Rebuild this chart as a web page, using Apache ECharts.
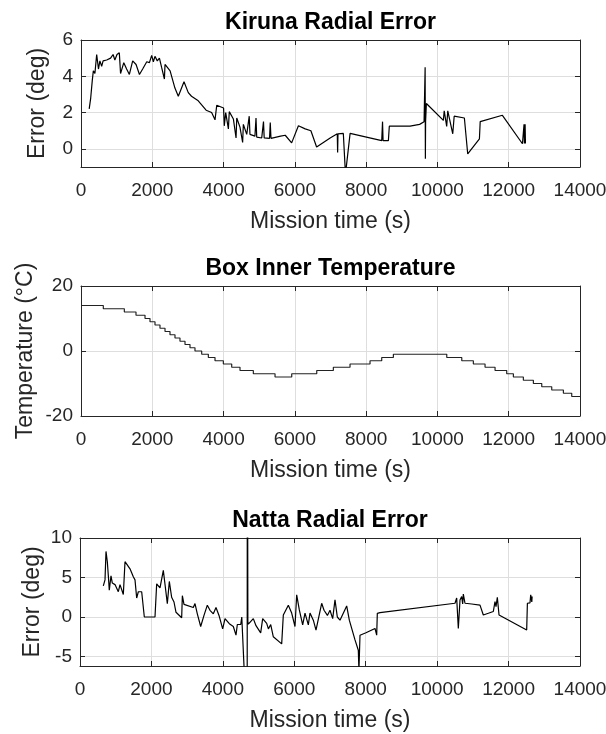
<!DOCTYPE html>
<html>
<head>
<meta charset="utf-8">
<script src="https://cdn.jsdelivr.net/npm/echarts@6/dist/echarts.min.js"></script>
<style>
  html, body { margin: 0; padding: 0; background: #fff; }
  #main { width: 606px; height: 734px; }
</style>
</head>
<body>
<div id="main"></div>
<script>
// Kiruna radial error (deg) vs mission time (s)
var kirunaTime = [230, 272, 318, 346, 390, 440, 490, 530, 580, 620, 720, 760, 830, 900, 950, 1010, 1075, 1110, 1200, 1280,
  1357, 1450, 1545, 1640, 1730, 1845, 1920, 1983, 2030, 2075, 2140, 2200, 2260, 2340, 2357, 2500, 2635, 2730, 2890, 3010,
  3100, 3290, 3510, 3665, 3760, 3808, 4000, 4020, 4060, 4135, 4160, 4275, 4300, 4350, 4370, 4460, 4535, 4555, 4650, 4720,
  4740, 4880, 4910, 4930, 5070, 5120, 5140, 5290, 5310, 5330, 5600, 5730, 5910, 6100, 6290, 6450, 6610, 6990, 7190, 7200,
  7210, 7360, 7420, 7440, 7550, 7600, 8437, 8460, 8475, 8624, 8650, 9232, 9500, 9625, 9655, 9662, 9668, 9690, 10167, 10190,
  10260, 10290, 10320, 10430, 10470, 10756, 10850, 11178, 11200, 11823, 12385, 12430, 12440, 12460, 12470];
var kirunaError = [2.2, 2.8, 3.8, 4.3, 4.15, 5.2, 4.4, 4.85, 4.55, 4.85, 4.9, 5.0, 5.0, 5.2, 4.9, 5.2, 5.3, 4.15, 4.75, 4.4,
  4.1, 4.85, 4.65, 4.1, 4.4, 4.8, 4.75, 5.15, 4.8, 5.1, 4.85, 5.0, 4.5, 3.85, 4.65, 4.3, 3.35, 2.9, 3.7, 3.1,
  2.9, 2.65, 2.13, 2.0, 1.6, 2.4, 2.25, 1.27, 2.0, 1.1, 2.05, 1.65, 1.3, 0.6, 1.7, 1.2, 0.35, 1.35, 0.8, 1.8,
  0.8, 0.7, 1.7, 0.65, 0.6, 1.5, 0.6, 0.58, 1.45, 0.58, 0.7, 0.75, 0.33, 1.27, 1.1, 1.0, 0.1, 0.6, 0.83, -0.2,
  0.83, 0.85, -1.4, -1.4, 0.85, 0.95, 0.45, 1.5, 0.45, 0.45, 1.25, 1.25, 1.35, 1.5, 4.5, -0.55, 1.5, 2.5, 1.57, 2.1,
  1.24, 2.1, 2.0, 0.83, 1.8, 1.7, -0.28, 0.55, 1.5, 1.85, 0.28, 1.35, 0.3, 1.35, 0.3];

// Box inner temperature (deg C), value held from each time to the next
var tempTime = [0, 626, 1216, 1543, 1796, 1936, 2076, 2216, 2357, 2497, 2637, 2777, 2918, 3058, 3198, 3386, 3573, 3760,
  3994, 4228, 4461, 4835, 5444, 5912, 6614, 7080, 7548, 8109, 8437, 8764, 10262, 10683, 11008, 11336, 11617, 11944,
  12131, 12411, 12692, 12927, 13207, 13534, 13768, 14000];
var tempValue = [14, 13, 12, 11, 10, 9, 8, 7, 6, 5, 4, 3, 2, 1, 0, -1, -2, -3,
  -4, -5, -6, -7, -8, -7, -6, -5, -4, -3, -2, -1, -2, -3, -4, -5, -6, -7,
  -8, -9, -10, -11, -12, -13, -14, -14];

// Natta radial error (deg)
var nattaTime = [653, 700, 728, 765, 800, 820, 868, 905, 980, 1027, 1073, 1120, 1213, 1260, 1400, 1493, 1540, 1587, 1633, 1727,
  1801, 2100, 2147, 2240, 2333, 2389, 2445, 2501, 2566, 2632, 2688, 2847, 2866, 2912, 3173, 3220, 3285, 3379, 3472, 3565,
  3640, 3733, 3808, 3892, 3995, 4060, 4181, 4293, 4340, 4368, 4405, 4500, 4530, 4600, 4680, 4685, 4700, 4713, 4853, 4928,
  5059, 5115, 5227, 5275, 5340, 5413, 5647, 5693, 5833, 5927, 6020, 6067, 6141, 6235, 6300, 6393, 6440, 6533, 6608, 6767,
  6833, 6927, 7000, 7075, 7140, 7205, 7280, 7467, 7541, 7700, 7793, 7810, 7840, 8007, 8260, 8307, 8325, 8400, 10500, 10547,
  10593, 10640, 10687, 10715, 10733, 10780, 10967, 11200, 11293, 11433, 11573, 11620, 11648, 11685, 11733, 12507, 12527, 12600, 12620, 12650,
  12660];
var nattaError = [3.94, 4.7, 8.3, 7.0, 4.8, 3.4, 5.2, 4.3, 4.1, 4.3, 3.2, 4.1, 2.85, 7.0, 6.1, 5.1, 4.7, 2.4, 3.2, 3.2,
  0, 0, 4.2, 3.7, 5.9, 3.8, 1.7, 4.5, 2.5, 1.9, 0.6, -0.1, 2.7, 1.6, 1.2, 1.7, 0.4, -1.2, 0.2, 1.5,
  0.85, 0.4, 1.2, 0.2, -1.5, -0.2, -0.85, -1.2, -0.95, -2.3, -0.95, -0.95, 0, -7, -40, 40, -0.6, -0.9, -0.2, -1.1,
  -2.0, -0.2, -0.8, -1.5, -0.95, -2.5, -3.4, 0.25, 1.5, 0.5, -1.2, 2.8, 0.9, -1.0, 0.5, -1.0, 0.5, -0.4, -1.65, 1.74,
  0.85, 0.2, 0.85, -0.2, 2.16, 0, -0.4, 1.4, -0.4, -2.9, -4.2, -6.8, -2.3, -2.0, -1.45, -2.3, 0.47, 0.55, 1.74, 2.4,
  -1.45, 2.16, 2.6, 1.65, 2.9, 1.74, 1.65, 1.5, 0.25, 0.47, 0.7, 1.95, 1.3, 2.5, 0.25, -1.65, 1.74, 1.8, 2.8, 1.9,
  2.6];

var kirunaYTicks = [0, 2, 4, 6];
var tempYTicks = [-20, 0, 20];
var nattaYTicks = [-5, 0, 5, 10];

var titles = ['Kiruna Radial Error', 'Box Inner Temperature', 'Natta Radial Error'];
var yNames = ['Error (deg)', 'Temperature (°C)', 'Error (deg)'];

function pairs(xs, ys) {
  var out = [];
  for (var i = 0; i < xs.length; i++) {
    out.push([xs[i], ys[i]]);
  }
  return out;
}

var font = "'Liberation Sans', Arial, sans-serif";
var dark = '#262626';
var gridColor = '#dedede';

var grids = [
  { left: 81, top: 40, width: 499, height: 127 },
  { left: 81, top: 286, width: 499, height: 130 },
  { left: 80, top: 538, width: 500, height: 128 }
];
var yRanges = [[-1, 6], [-20, 20], [-6.2, 10]];
var yTickSets = [kirunaYTicks, tempYTicks, nattaYTicks];
var yNameGaps = [32, 44, 36];
var titleTops = [11, 257, 509];

var xAxes = [], yAxes = [], titleList = [];
for (var g = 0; g < 3; g++) {
  grids[g].outerBoundsMode = 'none';
  titleList.push({
    text: titles[g], left: grids[g].left + grids[g].width / 2, top: titleTops[g], padding: 0,
    textAlign: 'center',
    textStyle: { fontFamily: font, fontSize: 23, fontWeight: 'bold', color: '#000' }
  });
  // bottom axis with labels
  xAxes.push({
    type: 'value', gridIndex: g, position: 'bottom', min: 0, max: 14000, interval: 2000,
    name: 'Mission time (s)', nameLocation: 'middle', nameGap: 43, nameMoveOverlap: false,
    nameTextStyle: { fontFamily: font, fontSize: 23, color: dark },
    axisLine: { show: true, onZero: false, lineStyle: { color: dark, width: 1 } },
    axisTick: { show: true, inside: true, length: 5, lineStyle: { color: dark } },
    axisLabel: { fontFamily: font, fontSize: 19, color: dark, margin: 14,
      formatter: function (v) { return String(v); } },
    splitLine: { show: true, lineStyle: { color: gridColor, width: 1 } }
  });
  // top box edge
  xAxes.push({
    type: 'value', gridIndex: g, position: 'top', min: 0, max: 14000, interval: 2000,
    axisLine: { show: true, onZero: false, lineStyle: { color: dark, width: 1 } },
    axisTick: { show: true, inside: true, length: 5, lineStyle: { color: dark } },
    axisLabel: { show: false },
    splitLine: { show: false }
  });
  yAxes.push({
    type: 'value', gridIndex: g, position: 'left', min: yRanges[g][0], max: yRanges[g][1],
    name: yNames[g], nameLocation: 'middle', nameGap: yNameGaps[g], nameMoveOverlap: false,
    nameTextStyle: { fontFamily: font, fontSize: 23, color: dark },
    axisLine: { show: true, onZero: false, lineStyle: { color: dark, width: 1 } },
    axisTick: { show: true, inside: true, length: 5, lineStyle: { color: dark }, customValues: yTickSets[g] },
    axisLabel: { fontFamily: font, fontSize: 19, color: dark, margin: 8, customValues: yTickSets[g] },
    splitLine: { show: true, lineStyle: { color: gridColor, width: 1 } }
  });
  // right box edge
  yAxes.push({
    type: 'value', gridIndex: g, position: 'right', min: yRanges[g][0], max: yRanges[g][1],
    axisLine: { show: true, onZero: false, lineStyle: { color: dark, width: 1 } },
    axisTick: { show: true, inside: true, length: 5, lineStyle: { color: dark }, customValues: yTickSets[g] },
    axisLabel: { show: false, customValues: yTickSets[g] },
    splitLine: { show: false }
  });
}

var myChart = echarts.init(document.getElementById('main'), null, { renderer: 'canvas' });
var option = {
  animation: false,
  backgroundColor: '#fff',
  title: titleList,
  grid: grids,
  xAxis: xAxes,
  yAxis: yAxes,
  series: [{
    type: 'line', xAxisIndex: 0, yAxisIndex: 0, data: pairs(kirunaTime, kirunaError),
    showSymbol: false, symbol: 'none', clip: true,
    lineStyle: { color: '#000', width: 1.2 }
  }, {
    type: 'line', xAxisIndex: 2, yAxisIndex: 2, data: pairs(tempTime, tempValue), step: 'end',
    showSymbol: false, symbol: 'none', clip: true,
    lineStyle: { color: '#222', width: 1.2 }
  }, {
    type: 'line', xAxisIndex: 4, yAxisIndex: 4, data: pairs(nattaTime, nattaError),
    showSymbol: false, symbol: 'none', clip: true,
    lineStyle: { color: '#000', width: 1.2 }
  }]
};
myChart.setOption(option);
</script>
</body>
</html>
